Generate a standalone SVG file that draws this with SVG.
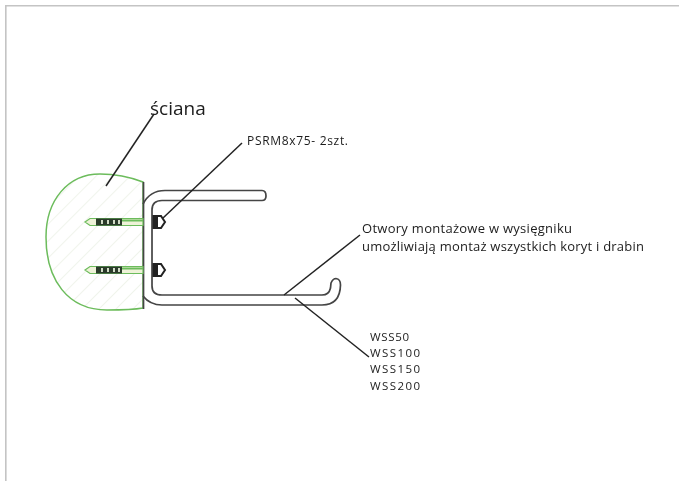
<svg xmlns="http://www.w3.org/2000/svg" width="679" height="481" viewBox="0 0 679 481">
<style>
text{font-family:"Open Sans","Noto Sans","Liberation Sans",sans-serif;fill:#1c1c1c;font-size:13px}
.w{font-size:11.500px}
.l{stroke:#222;stroke-width:1.5;fill:none}
.c{stroke:#444;stroke-width:1.700;fill:none}
</style>
<defs>
<filter id="s" x="-5%" y="-5%" width="110%" height="110%"><feGaussianBlur stdDeviation="0.65"/></filter>
<pattern id="h" width="12" height="12" patternUnits="userSpaceOnUse" patternTransform="rotate(-45)"><rect width="12" height="12" fill="#fff"/><line x1="0" y1="0" x2="12" y2="0" stroke="#f0f4ec" stroke-width="2"/></pattern>
<g id="bolt">
<path d="M85 0 L90 -3.500 H143 V3.500 H90 Z" fill="#eef2d8" stroke="#6cbc5c" stroke-width="1.200"/>
<rect x="96" y="-3.500" width="26" height="7" fill="#2c3a2c"/>
<path d="M102 -2V2M108 -2V2M114 -2V2M119 -2V2" stroke="#e4eed8" stroke-width="1.800"/>
<line x1="122" y1="-1.500" x2="143" y2="-1.500" stroke="#6cbc5c" stroke-width="2"/>
<rect x="152" y="-7" width="5" height="14" fill="#222"/>
<path d="M157 -6H161L165 0L161 6H157Z" fill="#fff" stroke="#222" stroke-width="2"/>
</g>
</defs>
<rect width="679" height="481" fill="#fff"/>
<path d="M5.800 481V5.800H679" fill="none" stroke="#c4c4c4" stroke-width="1.600"/>
<g filter="url(#s)">
<g id="wall">
<path d="M143 182 C130 177 118 174 100 174 C68 174 46 200 46 237 C46 280 68 310 107 310 C120 310 132 310 143 308 Z" fill="url(#h)" stroke="#6cbc5c" stroke-width="1.500"/>
<line x1="143.500" y1="182" x2="143.500" y2="309" stroke="#444" stroke-width="1.700"/>
</g>
<g id="bolts">
<use href="#bolt" y="222"/>
<use href="#bolt" y="270"/>
</g>
<g id="bracket">
<path class="c" d="M143 204 Q150 190.500 165 190.500 H262 Q266 190.500 266 196 Q266 200.500 262 200.500 H162 Q152 200.500 152 210 V286 Q152 295 162 295 H322 Q329 295 330.500 288 L331 283 Q333 278.500 336 278.500 Q340.500 279 340.500 285 Q340 305 322 305 H162 Q150 305 143 296"/>
</g>
<g id="connectors">
<line class="l" x1="154" y1="114" x2="106" y2="186"/>
<line class="l" x1="242" y1="143" x2="163" y2="218"/>
<line class="l" x1="360" y1="235" x2="284" y2="295"/>
<line class="l" x1="369" y1="357" x2="295" y2="298"/>
</g>
<g id="labels">
<text x="150" y="115" style="font-size:19px">ściana</text>
<text x="247" y="145" textLength="101" style="font-size:12px">PSRM8x75- 2szt.</text>
<text x="362" y="233" textLength="210">Otwory montażowe w wysięgniku</text>
<text x="362" y="251" textLength="282">umożliwiają montaż wszystkich koryt i drabin</text>
<text class="w" x="370" y="341" textLength="39">WSS50</text>
<text class="w" x="370" y="357" textLength="50">WSS100</text>
<text class="w" x="370" y="373" textLength="50">WSS150</text>
<text class="w" x="370" y="390" textLength="50">WSS200</text>
</g>
</g>
</svg>
